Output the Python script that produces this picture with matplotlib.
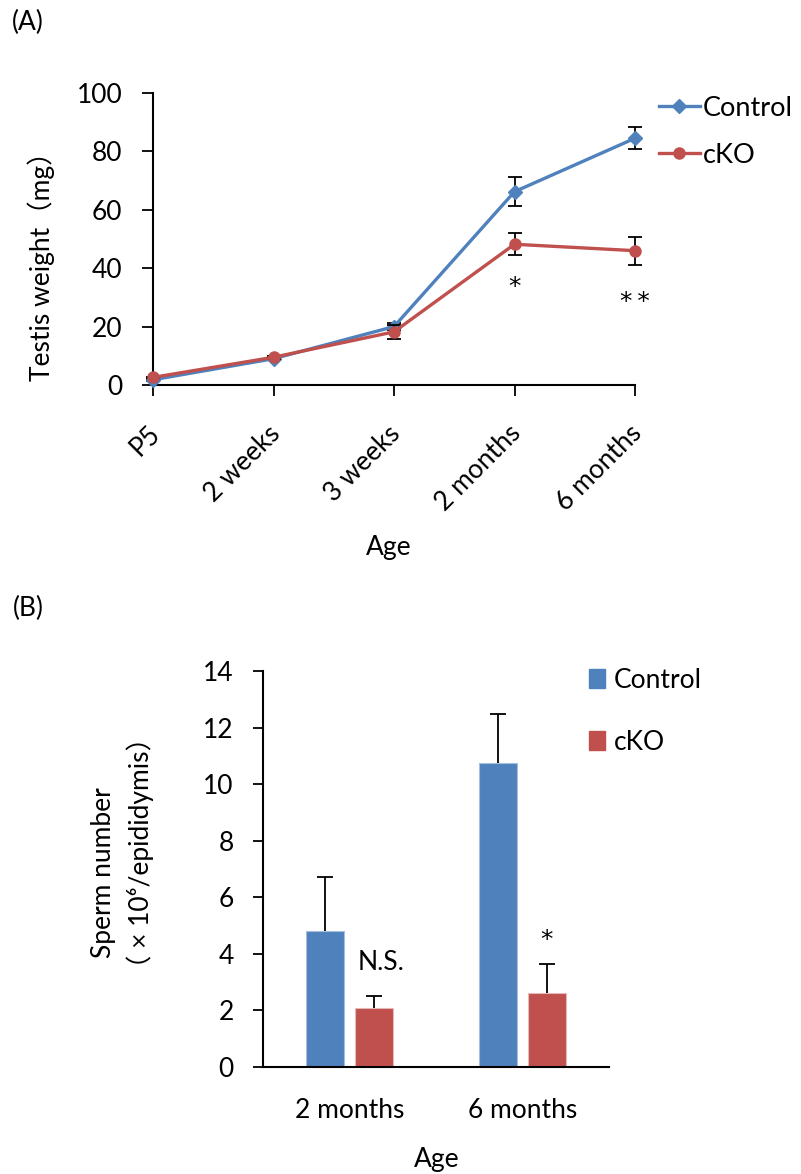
import numpy as np
import matplotlib
matplotlib.use("Agg")
from matplotlib import pyplot as plt
from matplotlib.patches import Patch
from matplotlib.lines import Line2D
from matplotlib.transforms import ScaledTranslation

plt.rcParams['font.family'] = ['Lato', 'Noto Sans CJK JP', 'DejaVu Sans']

# (A) testis weight (mg)
ages = ['P5', '2 weeks', '3 weeks', '2 months', '6 months']
ctrl_weight = [1.8, 9.0, 20.0, 66.2, 84.5]
ctrl_weight_err = [0.3, 0.6, 1.2, 5.0, 3.7]
cko_weight = [2.6, 9.5, 18.2, 48.2, 46.0]
cko_weight_err = [0.3, 0.6, 2.4, 3.7, 4.8]

# (B) sperm number (x10^6 / epididymis)
groups = ['2 months', '6 months']
ctrl_sperm = [4.8, 10.75]
ctrl_sperm_err = [1.93, 1.72]
cko_sperm = [2.1, 2.6]
cko_sperm_err = [0.4, 1.05]

blue = '#4F81BD'
red = '#C0504D'
W, H = 801, 1174


def fx(px):
    return px / W


def fy(py):
    return 1 - py / H


fig = plt.figure(figsize=(W / 100, H / 100), dpi=100)

# ---------------- (A) ----------------
axA = fig.add_axes([fx(153), fy(385), fx(635) - fx(153), fy(93) - fy(385)])
x = np.arange(len(ages))
axA.errorbar(x, ctrl_weight, yerr=ctrl_weight_err, color=blue, lw=2.4,
             marker='D', ms=7, ecolor='black', elinewidth=1.3, capsize=5,
             capthick=1.3, clip_on=False, zorder=3)
axA.errorbar(x, cko_weight, yerr=cko_weight_err, color=red, lw=2.4,
             marker='o', ms=8, ecolor='black', elinewidth=1.3, capsize=5,
             capthick=1.3, clip_on=False, zorder=4)
axA.set_xlim(0, len(ages) - 1)
axA.set_ylim(0, 100)
axA.set_yticks(np.arange(0, 101, 20))
axA.set_xticks(x)
axA.set_xticklabels(ages)
for s in ['top', 'right']:
    axA.spines[s].set_visible(False)
for s in ['left', 'bottom']:
    axA.spines[s].set_linewidth(1.5)
axA.tick_params(axis='both', direction='out', length=8, width=1.3, labelsize=19)
axA.tick_params(axis='y', pad=14)
axA.tick_params(axis='x', pad=12)
shift = ScaledTranslation(-6 / 100, -8 / 100, fig.dpi_scale_trans)
for lab in axA.get_xticklabels():
    lab.set_rotation(45)
    lab.set_ha('right')
    lab.set_rotation_mode('anchor')
    lab.set_transform(lab.get_transform() + shift)
axA.text(3, 33.6, '*', ha='center', va='center', fontsize=18, family='DejaVu Sans')
axA.text(4, 28.4, '*\u2009*', ha='center', va='center', fontsize=18, family='DejaVu Sans')
legA = [Line2D([], [], color=blue, lw=2.4, marker='D', ms=7, label='Control'),
        Line2D([], [], color=red, lw=2.4, marker='o', ms=8, label='cKO')]
axA.legend(handles=legA, loc='upper left', bbox_to_anchor=(1.05, 0.99), frameon=False,
           fontsize=19.5, handlelength=1.5, handletextpad=0.1, labelspacing=0.8,
           borderpad=0, borderaxespad=0)

fig.text(fx(12), fy(22), '(A)', fontsize=19, va='center', ha='left')
fig.text(fx(41), fy(260), 'Testis weight（mg）', rotation=90, ha='center',
         va='center', fontsize=19)
fig.text(fx(389), fy(548), 'Age', ha='center', va='center', fontsize=19)

# ---------------- (B) ----------------
axB = fig.add_axes([fx(263), fy(1067), fx(609) - fx(263), fy(671) - fy(1067)])
xb = np.arange(len(groups))
off, bw = 0.1416, 0.22
axB.bar(xb - off, ctrl_sperm, bw, color=blue, edgecolor='#A7BFDE', lw=0.8)
axB.bar(xb + off, cko_sperm, bw, color=red, edgecolor='#E6B9B8', lw=0.8)
for xs, vals, errs in [(xb - off, ctrl_sperm, ctrl_sperm_err),
                       (xb + off, cko_sperm, cko_sperm_err)]:
    eb = axB.errorbar(xs, vals, yerr=[np.zeros(len(groups)), errs], fmt='none',
                      ecolor='black', elinewidth=1.3, capsize=6, capthick=1.3)
    eb[1][0].set_visible(False)  # no cap at the bar top
axB.set_xlim(-0.5, len(groups) - 0.5)
axB.set_ylim(0, 14)
axB.set_yticks(np.arange(0, 15, 2))
axB.set_xticks(xb)
axB.set_xticklabels(groups)
for s in ['top', 'right']:
    axB.spines[s].set_visible(False)
for s in ['left', 'bottom']:
    axB.spines[s].set_linewidth(1.5)
axB.tick_params(axis='y', direction='out', length=7, width=1.3, labelsize=19, pad=14)
axB.tick_params(axis='x', length=0, labelsize=19, pad=22)
axB.text(xb[0] + off + 0.04, 3.68, 'N.S.', ha='center', va='center', fontsize=19)
axB.text(xb[1] + off, 4.5, '*', ha='center', va='center', fontsize=18, family='DejaVu Sans')
axB.legend(handles=[Patch(color=blue, label='Control'), Patch(color=red, label='cKO')],
           loc='upper left', bbox_to_anchor=(0.942, 1.008), frameon=False,
           fontsize=19, handlelength=0.6, handleheight=0.7, handletextpad=0.35,
           labelspacing=1.4, borderpad=0, borderaxespad=0)

fig.text(fx(13), fy(608), '(B)', fontsize=19, va='center', ha='left')
fig.text(fx(103), fy(873), 'Sperm number', rotation=90, ha='center',
         va='center', fontsize=19)
fig.text(fx(140), fy(853), '（ × 10⁶/epididymis）', rotation=90, ha='center',
         va='center', fontsize=19)
fig.text(fx(437), fy(1159), 'Age', ha='center', va='center', fontsize=19)

fig.savefig('out.png', dpi=100)
